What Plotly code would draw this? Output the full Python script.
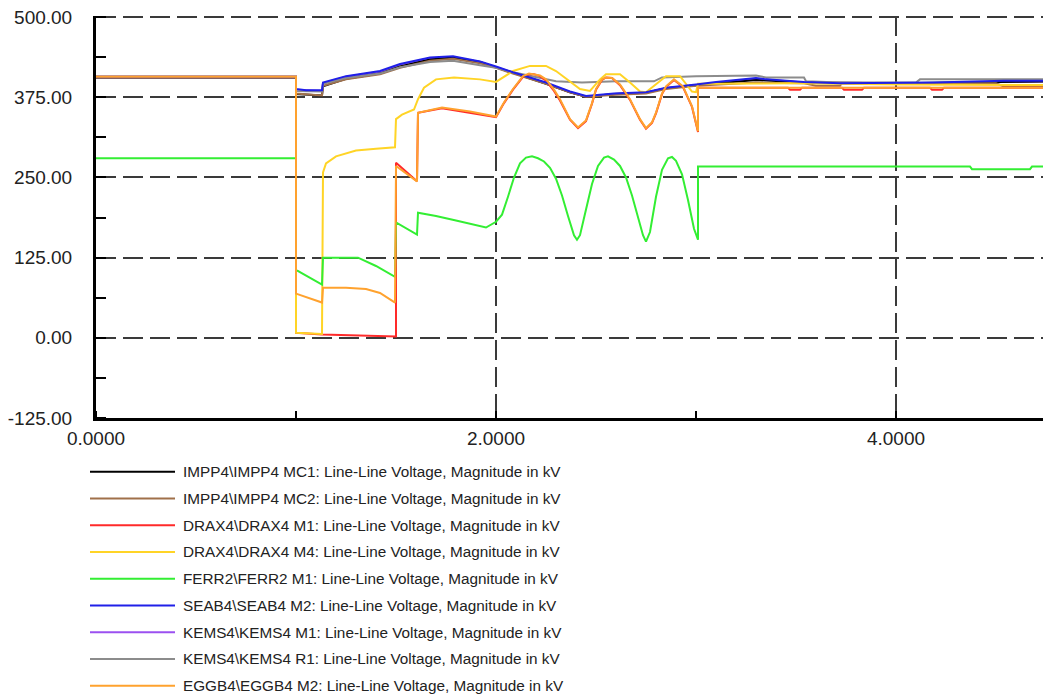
import plotly.graph_objects as go

# ---------------- data ----------------
names = [
    r"IMPP4\IMPP4 MC1: Line-Line Voltage, Magnitude in kV",
    r"IMPP4\IMPP4 MC2: Line-Line Voltage, Magnitude in kV",
    r"DRAX4\DRAX4 M1: Line-Line Voltage, Magnitude in kV",
    r"DRAX4\DRAX4 M4: Line-Line Voltage, Magnitude in kV",
    r"FERR2\FERR2 M1: Line-Line Voltage, Magnitude in kV",
    r"SEAB4\SEAB4 M2: Line-Line Voltage, Magnitude in kV",
    r"KEMS4\KEMS4 M1: Line-Line Voltage, Magnitude in kV",
    r"KEMS4\KEMS4 R1: Line-Line Voltage, Magnitude in kV",
    r"EGGB4\EGGB4 M2: Line-Line Voltage, Magnitude in kV",
]
colors = ["#000000", "#a0704a", "#ff2a2a", "#ffd426", "#33ee33",
          "#2020e8", "#9b50f0", "#8c8c8c", "#ffa22e"]

impp_mc1_t = [0, 1.0, 1.0, 1.13, 1.135, 1.25, 1.42, 1.52, 1.67, 1.785, 1.92, 2.0, 2.085, 2.25, 2.37, 2.45, 2.59, 2.75, 2.85, 3.0, 3.3, 3.54, 4.0, 4.78]
impp_mc1_v = [406, 406, 380, 378, 392, 404, 412, 423, 434, 437, 430, 422, 413, 396, 383, 376, 380, 382, 389, 394, 402, 398, 397, 400]

impp_mc2_t = [0, 1.0, 1.0, 1.13, 1.135, 1.25, 1.42, 1.52, 1.67, 1.785, 1.92, 2.0, 2.085, 2.25, 2.37, 2.45, 2.6, 2.75, 2.85, 3.0, 3.3, 3.54, 3.6, 3.72, 3.73, 4.5, 4.54, 4.78]
impp_mc2_v = [406, 406, 381, 378, 393, 403, 411, 421, 432, 435, 428, 421, 412, 396, 383, 376, 379, 381, 388, 393, 398, 397, 393, 393, 397, 397, 392, 392]

drax_m1_t = [0, 1.0, 1.0, 1.13, 1.5, 1.5, 1.605, 1.61, 1.73, 1.87, 2.0, 2.04, 2.085, 2.135, 2.165, 2.19, 2.22, 2.25, 2.29, 2.32, 2.37, 2.41, 2.45, 2.48, 2.5, 2.53, 2.55, 2.58, 2.62, 2.67, 2.72, 2.75, 2.78, 2.8, 2.83, 2.85, 2.89, 2.935, 2.98, 3.01, 3.01, 3.46, 3.47, 3.52, 3.53, 3.73, 3.74, 3.83, 3.84, 4.17, 4.18, 4.23, 4.24, 4.78]
drax_m1_v = [407, 407, 8, 5, 2, 273, 244, 351, 358, 351, 344, 366, 387, 407, 411, 411, 408, 401, 385, 370, 340, 327, 338, 365, 387, 402, 406, 405, 394, 371, 340, 326, 335, 350, 380, 391, 402, 391, 360, 321, 390, 390, 387, 387, 390, 390, 387, 387, 390, 390, 387, 387, 390, 390]

drax_m4_t = [0, 1.0, 1.0, 1.13, 1.135, 1.15, 1.2, 1.3, 1.4, 1.495, 1.5, 1.53, 1.59, 1.61, 1.64, 1.7, 1.79, 1.92, 2.0, 2.085, 2.17, 2.25, 2.3, 2.37, 2.42, 2.47, 2.52, 2.55, 2.62, 2.67, 2.72, 2.75, 2.8, 2.85, 2.92, 2.98, 3.0, 3.01, 3.5, 4.0, 4.78]
drax_m4_v = [407, 407, 8, 6, 258, 272, 283, 292, 295, 297, 341, 348, 356, 372, 390, 403, 406, 403, 399, 416, 424, 424, 416, 400, 388, 385, 403, 411, 411, 398, 384, 383, 395, 408, 408, 384, 383, 396, 397, 395, 394]

ferr_m1_t = [0, 1.0, 1.0, 1.13, 1.135, 1.31, 1.4, 1.495, 1.5, 1.605, 1.61, 1.7, 1.8, 1.9, 1.95, 2.0, 2.03, 2.06, 2.09, 2.12, 2.15, 2.18, 2.21, 2.24, 2.27, 2.3, 2.33, 2.36, 2.39, 2.405, 2.42, 2.45, 2.48, 2.51, 2.54, 2.56, 2.59, 2.62, 2.65, 2.68, 2.71, 2.735, 2.75, 2.77, 2.8, 2.83, 2.86, 2.88, 2.9, 2.93, 2.96, 2.99, 3.01, 3.01, 4.37, 4.38, 4.67, 4.68, 4.78]
ferr_m1_v = [280, 280, 106, 83, 125, 125, 112, 95, 180, 161, 195, 190, 183, 175, 172, 181, 192, 220, 250, 272, 281, 283, 280, 275, 265, 248, 222, 190, 160, 153, 160, 200, 240, 268, 281, 283, 278, 268, 250, 222, 190, 160, 150, 165, 220, 262, 280, 282, 276, 255, 215, 170, 153, 267, 267, 263, 263, 267, 267]

seab_m2_t = [0, 1.0, 1.0, 1.05, 1.13, 1.135, 1.25, 1.42, 1.52, 1.67, 1.785, 1.92, 2.0, 2.085, 2.25, 2.37, 2.45, 2.59, 2.75, 2.85, 3.0, 3.1, 3.3, 3.35, 3.54, 3.72, 4.19, 4.54, 4.78]
seab_m2_v = [407, 407, 388, 386, 386, 398, 408, 416, 427, 437, 439, 431, 423, 414, 398, 384, 377, 381, 383, 390, 395, 399, 405, 403, 399, 397, 398, 401, 401]

kems_m1_t = [0, 1.0, 1.0, 1.13, 1.135, 1.25, 1.42, 1.52, 1.67, 1.785, 1.92, 2.0, 2.085, 2.25, 2.37, 2.45, 2.59, 2.75, 2.85, 3.0, 3.3, 3.54, 4.19, 4.78]
kems_m1_v = [406, 406, 387, 385, 397, 407, 415, 426, 436, 438, 430, 422, 413, 397, 383, 376, 380, 382, 389, 394, 404, 398, 397, 400]

kems_r1_t = [0, 1.0, 1.0, 1.13, 1.135, 1.25, 1.42, 1.52, 1.67, 1.785, 1.92, 2.0, 2.085, 2.2, 2.3, 2.43, 2.6, 2.79, 2.83, 3.0, 3.3, 3.35, 3.54, 3.55, 3.72, 4.1, 4.12, 4.78]
kems_r1_v = [407, 407, 385, 384, 396, 405, 412, 422, 430, 432, 425, 421, 414, 406, 400, 398, 400, 400, 406, 408, 409, 406, 406, 400, 398, 398, 403, 403]

eggb_m2_t = [0, 1.0, 1.0, 1.13, 1.135, 1.25, 1.35, 1.42, 1.495, 1.5, 1.605, 1.61, 1.73, 1.87, 2.0, 2.04, 2.085, 2.135, 2.165, 2.19, 2.22, 2.25, 2.29, 2.32, 2.37, 2.41, 2.45, 2.48, 2.5, 2.53, 2.55, 2.58, 2.62, 2.67, 2.72, 2.75, 2.78, 2.8, 2.83, 2.85, 2.89, 2.935, 2.98, 3.01, 3.01, 4.78]
eggb_m2_v = [407, 407, 69, 55, 78, 78, 76, 70, 55, 268, 244, 351, 359, 353, 345, 367, 388, 408, 412, 411, 409, 403, 387, 372, 341, 328, 339, 366, 388, 403, 406, 405, 395, 372, 341, 327, 336, 351, 381, 392, 403, 392, 361, 322, 390, 390]

series_t = [impp_mc1_t, impp_mc2_t, drax_m1_t, drax_m4_t, ferr_m1_t, seab_m2_t, kems_m1_t, kems_r1_t, eggb_m2_t]
series_v = [impp_mc1_v, impp_mc2_v, drax_m1_v, drax_m4_v, ferr_m1_v, seab_m2_v, kems_m1_v, kems_r1_v, eggb_m2_v]

y_ticks = [-125, 0, 125, 250, 375, 500]
x_ticks = [0, 2, 4]
y_ticktext = [f"{v:.2f}" for v in y_ticks]   # plain ASCII hyphen for negatives
x_ticktext = [f"{v:.4f}" for v in x_ticks]

# drawing order (bottom -> top)
draw_order = [6, 0, 1, 7, 2, 3, 4, 5, 8]

fig = go.Figure()
for i in draw_order:
    fig.add_trace(go.Scatter(
        x=series_t[i], y=series_v[i], mode="lines", name=names[i],
        line=dict(color=colors[i], width=2), showlegend=False,
        hoverinfo="skip"))

FONT = "Liberation Sans, Arial, sans-serif"
OFF = 8  # page body margin of the html page
W, H = 1051 - OFF, 700 - OFF
ML, MR, MT = 96 - OFF, 0, 16 - OFF
MB = H - (418 - OFF)
pw, ph = W - ML - MR, H - MT - MB

fig.update_layout(
    width=W, height=H,
    margin=dict(l=ML, r=MR, t=MT, b=MB, pad=0, autoexpand=False),
    paper_bgcolor="white", plot_bgcolor="white",
    font=dict(family=FONT, size=15, color="#222222"),
    showlegend=False,
)
fig.update_xaxes(
    range=[0, 4.775], tickvals=x_ticks, ticktext=x_ticktext, automargin=False,
    tickfont=dict(family=FONT, size=19, color="#222222"),
    ticklabeloverflow="allow",
    showgrid=True, gridcolor="#3a3a3a", gridwidth=2, griddash="20px,7px",
    zeroline=False, showline=True, linecolor="black", linewidth=3,
    ticks="", ticklabelstandoff=1,
    minor=dict(dtick=1, tick0=0, ticks="inside", ticklen=7, tickwidth=2,
               tickcolor="black", showgrid=False),
)
fig.update_yaxes(
    range=[-125, 501.8], tickvals=y_ticks, ticktext=y_ticktext, automargin=False,
    tickfont=dict(family=FONT, size=19, color="#222222"),
    ticklabeloverflow="allow",
    showgrid=True, gridcolor="#3a3a3a", gridwidth=2, griddash="20px,7px",
    zeroline=False, showline=True, linecolor="black", linewidth=3,
    ticks="", ticklabelstandoff=17,
    minor=dict(dtick=62.5, tick0=-125, ticks="inside", ticklen=10, tickwidth=2,
               tickcolor="black", showgrid=False),
)

# manual legend below the plot (wide line samples as in the reference)
def px2paper_x(px):
    return (px - OFF - ML) / pw

def py2paper_y(py):
    return (H - MB - (py - OFF)) / ph

row0, step = 471.7, 26.75
for k, nm in enumerate(names):
    py = row0 + step * k
    fig.add_shape(type="line", xref="paper", yref="paper",
                  x0=px2paper_x(90), x1=px2paper_x(175),
                  y0=py2paper_y(py), y1=py2paper_y(py),
                  line=dict(color=colors[k], width=2))
    fig.add_annotation(xref="paper", yref="paper",
                       x=px2paper_x(181), y=py2paper_y(py),
                       xanchor="left", yanchor="middle", showarrow=False,
                       text=nm, font=dict(family=FONT, size=15.3, color="#222222"))

fig.write_html("out.html")
